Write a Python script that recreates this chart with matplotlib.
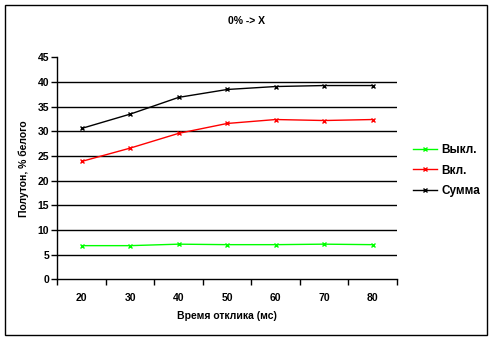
import matplotlib.pyplot as plt
from matplotlib.patches import Rectangle

# response time categories (ms)
categories = ["20", "30", "40", "50", "60", "70", "80"]
off_vals = [6.8, 6.8, 7.1, 7.0, 7.0, 7.1, 7.0]
on_vals = [23.9, 26.6, 29.6, 31.6, 32.4, 32.2, 32.4]
sum_vals = [30.6, 33.5, 36.9, 38.5, 39.1, 39.3, 39.3]
yticks = [0, 5, 10, 15, 20, 25, 30, 35, 40, 45]

plt.rcParams['font.family'] = ['Liberation Sans', 'DejaVu Sans']

fig = plt.figure(figsize=(4.93, 3.40), dpi=100)
ax = fig.add_axes([0.1166, 0.179, 0.6884, 0.652])

x = list(range(len(categories)))
ax.plot(x, off_vals, color="#00ff00", lw=1, marker="x", ms=3.5, mew=1, label="Выкл.")
ax.plot(x, on_vals, color="#ff0000", lw=1, marker="x", ms=3.5, mew=1, label="Вкл.")
ax.plot(x, sum_vals, color="black", lw=1, marker="x", ms=3.5, mew=1, label="Сумма")

ax.set_xlim(-0.5, len(categories) - 0.5)
ax.set_ylim(0, 45)
ax.set_yticks(yticks)
ax.set_yticklabels([str(v) for v in yticks], fontsize=7.5, fontweight="bold")
ax.set_xticks(x)
ax.set_xticklabels(categories, fontsize=7.5, fontweight="bold")
ax.set_xticks([i - 0.5 for i in range(len(categories) + 1)], minor=True)
ax.tick_params(axis="x", which="major", length=0, pad=10)
ax.tick_params(axis="x", which="minor", length=4, width=1, direction="out")
ax.tick_params(axis="y", length=4, width=1, direction="out", pad=2)

for v in yticks[1:-1]:
    ax.axhline(v, color="black", lw=1, zorder=0)

for s in ["top", "right"]:
    ax.spines[s].set_visible(False)
for s in ["left", "bottom"]:
    ax.spines[s].set_linewidth(1)

ax.set_xlabel("Время отклика (мс)", fontsize=7.5, fontweight="bold", labelpad=6)
ax.set_ylabel("Полутон, % белого", fontsize=7.5, fontweight="bold", labelpad=6)
fig.text(0.499, 0.937, "0% -> X", fontsize=7.5, fontweight="bold", ha="center", va="center")

ax.legend(loc="center left", bbox_to_anchor=(1.015, 0.49), frameon=False,
          prop={"weight": "bold", "size": 8.5}, handlelength=2.1,
          handletextpad=0.35, labelspacing=0.75)

fig.patches.append(Rectangle((5 / 493, 5 / 340), 482 / 493, 330 / 340,
                             transform=fig.transFigure, fill=False,
                             edgecolor="black", lw=1))

fig.savefig("out.png", dpi=100)
